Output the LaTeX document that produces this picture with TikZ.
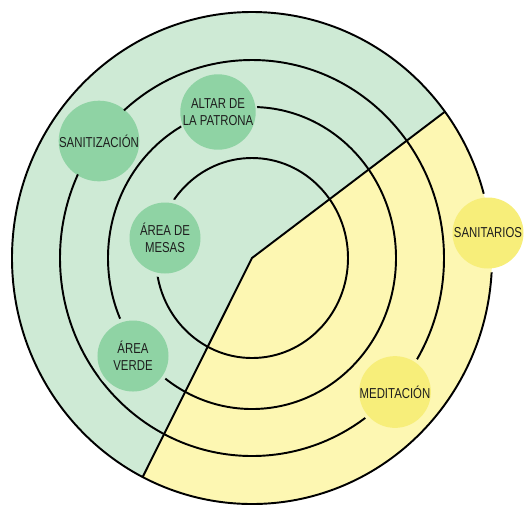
\documentclass[tikz,border=0pt]{standalone}
\usepackage{xcolor}
\usepackage{fontspec}
\setmainfont{Liberation Sans}[FakeStretch=0.79]
\usepackage{tikz}
\definecolor{zonegreen}{RGB}{206,234,213}
\definecolor{spotgreen}{RGB}{143,211,164}
\definecolor{zoneyellow}{RGB}{253,247,178}
\definecolor{spotyellow}{RGB}{247,238,122}
\definecolor{labeltext}{RGB}{30,30,30}

\begin{document}
\begin{tikzpicture}[
    spot/.style={circle, minimum size=1.42cm, inner sep=0pt, align=center, font=\fontsize{8.2}{9.9}\selectfont, text=labeltext},
    greenspot/.style={spot, fill=spotgreen},
    yellowspot/.style={spot, fill=spotyellow},
    ring/.style={line width=1.1pt, black}
]
\useasboundingbox (-5.04,-4.96) rectangle (5.48,5.16);
\coordinate (c) at (0,0);
\coordinate (ne) at (36.5:4.80 and 4.92);
\coordinate (sw) at (242.9:4.80 and 4.92);

% zones
\fill[zonegreen] (c) -- (ne) arc[start angle=36.5, end angle=242.9, x radius=4.80, y radius=4.92] -- cycle;
\fill[zoneyellow] (c) -- (sw) arc[start angle=242.9, end angle=396.5, x radius=4.80, y radius=4.92] -- cycle;

% spots
\node[greenspot] (sanit) at (-3.06,2.34) {SANITIZACIÓN};
\node[greenspot] (altar) at (-0.68,2.92) {ALTAR DE\\LA PATRONA};
\node[greenspot] (mesas) at (-1.74,0.40) {ÁREA DE\\MESAS};
\node[greenspot] (verde) at (-2.38,-1.96) {ÁREA\\VERDE};
\node[yellowspot] (sanitarios) at (4.72,0.50) {SANITARIOS};
\node[yellowspot] (medit) at (2.86,-2.68) {MEDITACIÓN};

% rings, cut around the spots
\begin{scope}[even odd rule]
\clip (-5.04,-4.96) rectangle (5.48,5.16)
    (sanit) circle[radius=0.79] (altar) circle[radius=0.79]
    (mesas) circle[radius=0.79] (verde) circle[radius=0.79]
    (sanitarios) circle[radius=0.79] (medit) circle[radius=0.79];
\foreach \rx/\ry in {1.92/2.00, 2.88/3.02, 3.84/3.96, 4.80/4.92}
    \draw[ring] (c) ellipse[x radius=\rx, y radius=\ry];
\end{scope}
\draw[ring] (ne) -- (c) -- (sw);
\end{tikzpicture}
\end{document}
